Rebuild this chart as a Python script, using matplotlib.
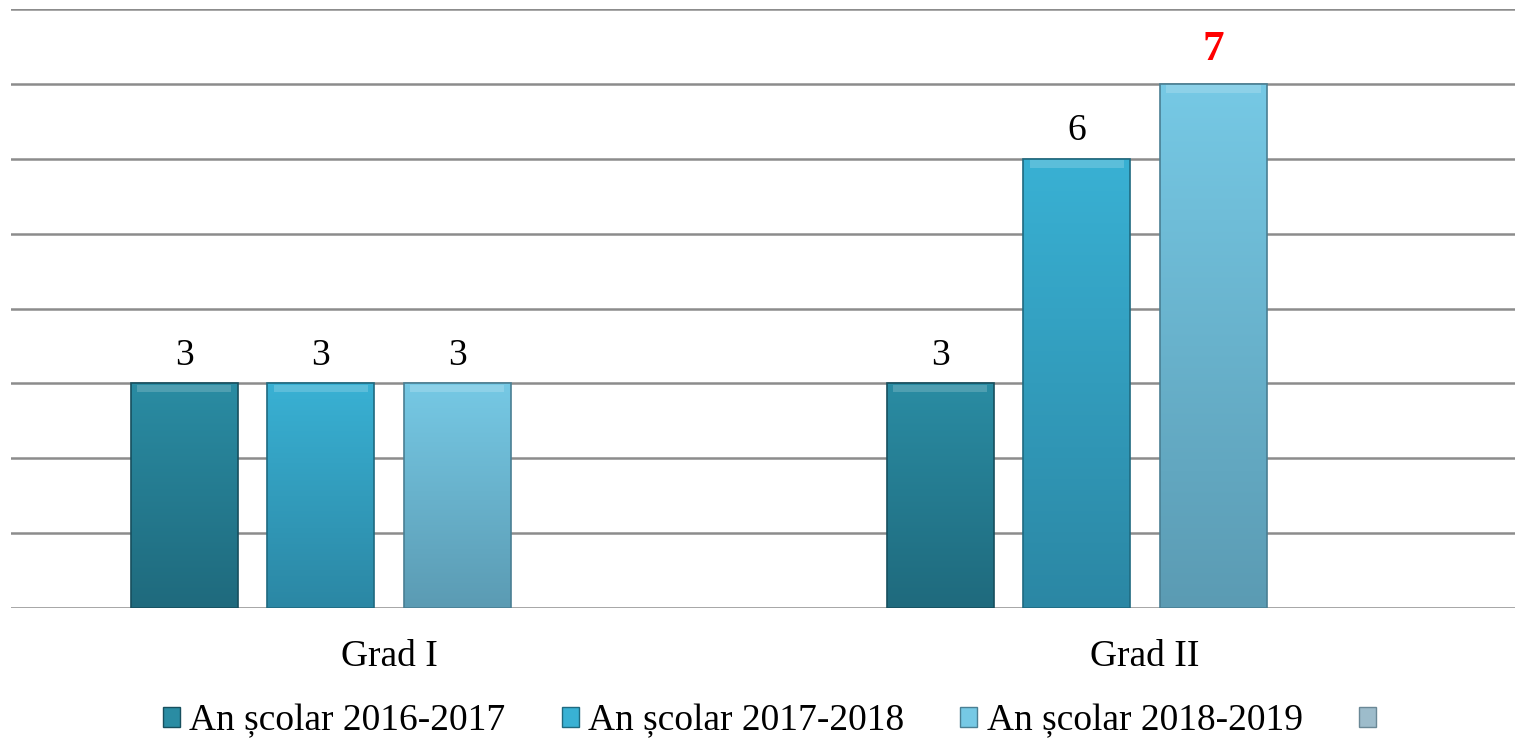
import numpy as np
import matplotlib
matplotlib.use("Agg")
import matplotlib.pyplot as plt
from matplotlib.patches import Patch
from matplotlib.colors import LinearSegmentedColormap

categories = ["Grad I", "Grad II"]
series_labels = ["An școlar 2016-2017", "An școlar 2017-2018", "An școlar 2018-2019", ""]
values_2016 = [3, 3]
values_2017 = [3, 6]
values_2018 = [3, 7]
values_blank = [np.nan, np.nan]
series_values = [values_2016, values_2017, values_2018, values_blank]

top_colors = ["#2a8ca3", "#39b1d4", "#76c9e5", "#9dbccb"]
bot_colors = ["#1f6a7d", "#2b87a4", "#5b9bb3", "#7f9fae"]
edge_colors = ["#174f5e", "#1f6a80", "#4a7f93", "#6a8896"]

plt.rcParams['font.family'] = ['Liberation Serif', 'DejaVu Serif']

fig = plt.figure(figsize=(15.15, 7.41), dpi=100)
ax = fig.add_axes([11/1515, 1-608/741, 1-11/1515, (608-9)/741])

x = np.arange(len(categories))
n = len(series_values)
width = 0.1415
step = 0.1806

for i, vals in enumerate(series_values):
    offs = (i - (n-1)/2) * step
    bars = ax.bar(x + offs, vals, width=width, color=top_colors[i],
                  edgecolor=edge_colors[i], linewidth=1.2, zorder=3,
                  label=series_labels[i])
    cmap = LinearSegmentedColormap.from_list(f"g{i}", [bot_colors[i], top_colors[i]])
    for b, v in zip(bars, vals):
        if np.isnan(v):
            continue
        x0, w, h = b.get_x(), b.get_width(), b.get_height()
        grad = np.linspace(0, 1, 256).reshape(-1, 1)
        im = ax.imshow(grad, cmap=cmap, origin='lower', aspect='auto',
                       extent=(x0, x0 + w, 0, h), zorder=3.5)
        im.set_clip_path(b)
        ax.fill_between([x0 + w*0.06, x0 + w*0.94], h - 0.12, h - 0.02,
                        color='white', alpha=0.18, zorder=3.6, linewidth=0)
        b.set_facecolor('none')
        b.set_zorder(4)

for i, vals in enumerate(series_values):
    offs = (i - (n-1)/2) * step
    for xi, v in zip(x, vals):
        if np.isnan(v):
            continue
        if i == 2 and xi == 1:
            ax.text(xi + offs, v + 0.2, f"{v:g}", ha='center', va='bottom',
                    fontsize=31, color='red', fontweight='bold')
        else:
            ax.text(xi + offs, v + 0.14, f"{v:g}", ha='center', va='bottom',
                    fontsize=27, color='black')

ax.set_ylim(0, 8)
ax.set_xlim(-0.5, 1.489)
ax.set_yticks(np.arange(0, 9, 1))
ax.yaxis.grid(True, color='#8c8c8c', linewidth=1.8, zorder=0)
ax.set_axisbelow(True)
ax.tick_params(axis='y', left=False, labelleft=False)
ax.tick_params(axis='x', bottom=False, labelsize=27, pad=19)
ax.set_xticks(x)
ax.set_xticklabels(categories)
for s in ax.spines.values():
    s.set_visible(False)

handles = [Patch(facecolor=top_colors[i], edgecolor=edge_colors[i]) for i in range(n)]
fig.legend(handles, series_labels, loc='center', bbox_to_anchor=(0.511, 1-721/741),
           ncol=4, frameon=False, fontsize=27, handlelength=0.45, handleheight=0.45,
           handletextpad=0.25, columnspacing=1.5)

fig.savefig("out.png", dpi=100)
